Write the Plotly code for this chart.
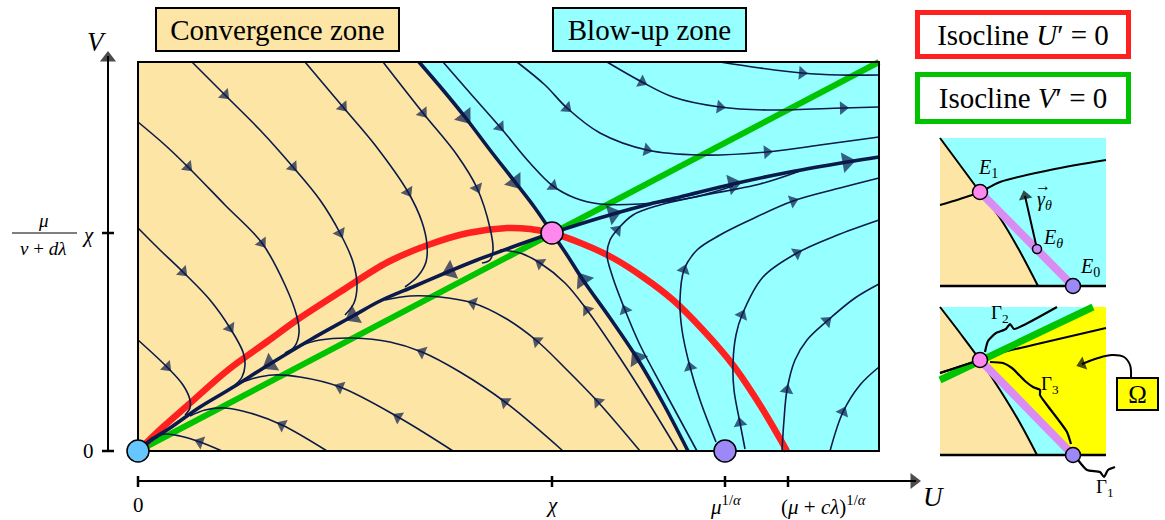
import plotly.graph_objects as go

# ---------------- main phase plane (U, V units) ----------------
U_MAX, V_MAX = 7.41, 3.89
E1 = (4.14, 2.18)
E0 = (5.87, 0.00)
ORIGIN = (0.00, 0.00)
U_TICKS = [0.00, 4.14, 5.87, 6.50]
U_TICK_TEXT = ["0", "<i>χ</i>", "<i>μ</i><sup>1/<i>α</i></sup>",
               "(<i>μ</i> + <i>cλ</i>)<sup>1/<i>α</i></sup>"]
V_TICKS = [0.00, 2.18]

# isoclines
red_iso = [(0.00, 0.00), (0.25, 0.24), (0.50, 0.46), (0.90, 0.81), (1.30, 1.10),
           (1.59, 1.31), (2.02, 1.59), (2.50, 1.89), (2.90, 2.06), (3.30, 2.18),
           (3.69, 2.23), (3.92, 2.22), (4.14, 2.18), (4.45, 2.07), (4.75, 1.93),
           (5.05, 1.74), (5.35, 1.51), (5.65, 1.21), (5.95, 0.86), (6.22, 0.46),
           (6.49, 0.00)]
green_iso = [(0.00, 0.00), (7.41, 3.89)]

# separatrices / manifolds of E1 (listed in flow direction)
sep_up = [(2.81, 3.89), (3.05, 3.61), (3.27, 3.34), (3.52, 3.01), (3.77, 2.69),
          (3.97, 2.43), (4.14, 2.18)]
sep_lo = [(5.50, 0.00), (5.25, 0.48), (4.99, 0.93), (4.72, 1.33), (4.45, 1.71),
          (4.29, 1.96), (4.14, 2.18)]
wu_left = [(4.14, 2.18), (3.77, 2.05), (3.39, 1.91), (3.12, 1.80), (2.77, 1.65),
           (2.42, 1.50), (2.15, 1.35), (1.72, 1.11), (1.32, 0.87), (0.92, 0.62),
           (0.62, 0.44), (0.32, 0.23), (0.12, 0.10), (0.00, 0.00)]
wu_right = [(4.14, 2.18), (4.42, 2.27), (4.75, 2.37), (5.12, 2.47), (5.42, 2.54),
            (5.95, 2.67), (6.52, 2.79), (7.09, 2.89), (7.41, 2.94)]

# thin trajectories
c1 = [(0.00, 1.11), (0.29, 0.84), (0.45, 0.66), (0.52, 0.51), (0.52, 0.43), (0.47, 0.36)]
c2 = [(0.00, 2.23), (0.22, 2.01), (0.45, 1.79), (0.72, 1.51), (0.92, 1.23), (1.05, 0.99),
      (1.07, 0.86), (1.04, 0.74), (0.97, 0.66)]
c3 = [(0.00, 3.29), (0.27, 3.06), (0.50, 2.84), (0.87, 2.46), (1.24, 2.08), (1.47, 1.66),
      (1.59, 1.34), (1.61, 1.18), (1.57, 1.05), (1.47, 0.96)]
c4 = [(0.54, 3.89), (0.87, 3.56), (1.22, 3.21), (1.55, 2.84), (1.82, 2.51), (2.02, 2.18),
      (2.15, 1.89), (2.19, 1.66), (2.16, 1.48), (2.07, 1.36)]
c5 = [(1.67, 3.89), (2.05, 3.44), (2.37, 3.06), (2.70, 2.59), (2.84, 2.29), (2.89, 2.06),
      (2.88, 1.89), (2.80, 1.75), (2.67, 1.64)]
c6 = [(2.45, 3.89), (2.85, 3.38), (3.19, 2.96), (3.39, 2.63), (3.52, 2.23), (3.55, 2.01),
      (3.52, 1.91), (3.44, 1.88)]
d1 = [(0.84, 0.00), (0.62, 0.09), (0.42, 0.15), (0.27, 0.17), (0.14, 0.13), (0.00, 0.00)]
d2 = [(1.89, 0.00), (1.44, 0.26), (1.12, 0.38), (0.87, 0.43), (0.67, 0.41), (0.52, 0.35)]
d3 = [(3.15, 0.00), (2.60, 0.34), (2.02, 0.64), (1.62, 0.74), (1.35, 0.76), (1.17, 0.73),
      (1.02, 0.68)]
d4 = [(4.25, 0.00), (3.67, 0.49), (3.22, 0.79), (2.84, 0.99), (2.52, 1.09), (2.15, 1.13),
      (1.82, 1.11), (1.59, 1.04), (1.47, 0.98)]
d5 = [(5.02, 0.00), (4.60, 0.49), (4.27, 0.83), (3.99, 1.10), (3.67, 1.33), (3.35, 1.48),
      (3.02, 1.54), (2.72, 1.55), (2.47, 1.51)]
d6 = [(5.40, 0.00), (5.12, 0.46), (4.82, 0.93), (4.49, 1.41), (4.27, 1.68), (4.02, 1.88),
      (3.82, 1.98), (3.62, 2.01)]
e1 = [(5.59, 0.00), (5.27, 0.59), (5.02, 1.06), (4.87, 1.41), (4.74, 1.76), (4.69, 1.96),
      (4.72, 2.11), (4.79, 2.21), (4.95, 2.36), (5.22, 2.46), (5.62, 2.55), (6.22, 2.67),
      (6.62, 2.80)]
f1 = [(5.78, 0.09), (5.62, 0.51), (5.52, 0.84), (5.44, 1.21), (5.42, 1.51), (5.46, 1.81),
      (5.59, 2.01), (5.82, 2.16), (6.12, 2.31), (6.55, 2.50), (7.02, 2.63), (7.41, 2.73)]
g1 = [(6.07, 0.02), (6.02, 0.28), (5.96, 0.61), (5.95, 0.88), (5.98, 1.16), (6.04, 1.36),
      (6.25, 1.74), (6.59, 1.98), (6.97, 2.15), (7.41, 2.31)]
g2 = [(6.44, 0.00), (6.46, 0.31), (6.49, 0.61), (6.57, 0.91), (6.69, 1.11), (6.89, 1.30),
      (7.17, 1.53), (7.41, 1.67)]
g3 = [(6.92, 0.00), (7.05, 0.39), (7.22, 0.66), (7.41, 0.84)]
h1 = [(3.05, 3.89), (3.32, 3.58), (3.62, 3.24), (3.92, 2.88), (4.15, 2.65), (4.37, 2.53),
      (4.62, 2.47), (5.02, 2.47), (5.52, 2.53), (5.95, 2.65)]
h2 = [(3.79, 3.89), (4.07, 3.66), (4.29, 3.43), (4.62, 3.18), (5.09, 3.01), (5.62, 2.96),
      (6.29, 2.99), (6.82, 3.06), (7.41, 3.14)]
h3 = [(4.69, 3.89), (5.04, 3.69), (5.35, 3.54), (5.82, 3.44), (6.29, 3.41), (7.05, 3.43),
      (7.41, 3.44)]
h4 = [(5.82, 3.89), (6.22, 3.83), (6.64, 3.78), (7.02, 3.76), (7.41, 3.76)]

# ---------------- inset 1 (local units) ----------------
IN_W, IN_H = 1.66, 1.48
in1_sep = [(0.00, 1.48), (0.20, 1.21), (0.40, 0.94), (0.60, 0.68), (0.78, 0.38), (0.98, 0.00)]
in1_wu = [(0.00, 0.81), (0.20, 0.87), (0.40, 0.94), (0.60, 1.04), (1.10, 1.16), (1.66, 1.26)]
in1_E1 = (0.40, 0.94)
in1_E0 = (1.33, 0.00)
in1_Et = (0.97, 0.37)
in1_gamma = (0.85, 0.90)

# ---------------- inset 2 (local units) ----------------
in2_sep = [(0.00, 1.48), (0.20, 1.22), (0.40, 0.95), (0.60, 0.65), (0.80, 0.32), (0.97, 0.00)]
in2_green = [(0.00, 0.75), (1.53, 1.48)]
in2_wu = [(0.00, 0.82), (0.40, 0.95), (0.60, 1.02), (0.93, 1.10), (1.66, 1.27)]
in2_E1 = (0.40, 0.95)
in2_E0 = (1.33, 0.00)
brace_g2 = [(0.45, 1.03), (0.48, 1.14), (0.56, 1.22), (0.66, 1.26), (0.70, 1.31), (0.74, 1.26),
            (0.84, 1.30), (1.17, 1.48)]
brace_g3 = [(0.50, 0.93), (0.63, 0.92), (0.72, 0.87), (0.85, 0.74), (0.93, 0.68), (1.00, 0.65),
            (1.00, 0.60), (1.07, 0.50), (1.20, 0.33), (1.27, 0.23), (1.31, 0.11)]
brace_g1 = [(1.38, -0.05), (1.47, -0.15), (1.60, -0.17), (1.64, -0.22), (1.68, -0.15),
            (1.75, -0.12)]
omega_call = [(1.91, 0.78), (1.90, 0.90), (1.84, 0.98), (1.72, 1.00), (1.58, 0.97), (1.42, 0.91)]

# ---------------- styling ----------------
BEIGE, CYAN, YELLOW = "#fde5a5", "#96ffff", "#ffff00"
NAVY, RED, GREEN = "#0a1a4a", "#ff2020", "#00c400"
VIOLET = "#d98cf2"
FONT = "Liberation Serif"
IN1_ORIGIN = (8.02, 1.65)
IN2_ORIGIN = (8.02, -0.04)

THIN = [(c1, [1]), (c2, [2, 4]), (c3, [2, 4]), (c4, [1, 3, 5]), (c5, [1, 3]), (c6, [1, 3]),
        (d1, [1]), (d2, [1]), (d3, [1, 2]), (d4, [1, 3]), (d5, [1, 3, 5]), (d6, [3, 5]),
        (e1, [3, 7]), (f1, [2, 5, 9]), (g1, [1, 5, 7]), (g2, [2, 5]), (g3, [1]),
        (h1, [2, 4]), (h2, [2, 4, 6]), (h3, [1, 3, 5]), (h4, [2])]
THICK = [(sep_up, [2, 4]), (sep_lo, [2, 4]), (wu_left, [3, 6, 8]), (wu_right, [2, 5, 7])]

fig = go.Figure()


def xy(pts, off=(0, 0)):
    return [p[0] + off[0] for p in pts], [p[1] + off[1] for p in pts]


def line(pts, width, color, off=(0, 0), shape="spline", smoothing=1.0):
    x, y = xy(pts, off)
    fig.add_trace(go.Scatter(x=x, y=y, mode="lines", hoverinfo="skip",
                             line=dict(color=color, width=width, shape=shape,
                                       smoothing=smoothing)))


def poly(pts, color, off=(0, 0)):
    x, y = xy(pts, off)
    fig.add_trace(go.Scatter(x=x, y=y, mode="lines", fill="toself", fillcolor=color,
                             line=dict(width=0), hoverinfo="skip"))


def arrows(items, size, color, off=(0, 0), symbol="triangle-up"):
    xs, ys, ss = [], [], []
    for pts, idxs in items:
        for i in idxs:
            a = pts[max(i - 1, 0)]
            b = pts[min(i + 1, len(pts) - 1)]
            p = pts[i]
            xs += [p[0] - 0.02 * (b[0] - a[0]) + off[0], p[0] + off[0]]
            ys += [p[1] - 0.02 * (b[1] - a[1]) + off[1], p[1] + off[1]]
            ss += [0, size]
    fig.add_trace(go.Scatter(x=xs, y=ys, mode="markers", hoverinfo="skip",
                             marker=dict(symbol=symbol, size=ss, color=color,
                                         angleref="previous", line=dict(width=0))))


def dots(pts, colors, size, off=(0, 0)):
    x, y = xy(pts, off)
    fig.add_trace(go.Scatter(x=x, y=y, mode="markers", hoverinfo="skip",
                             marker=dict(size=size, color=colors,
                                         line=dict(color="black", width=1.5))))


def label(text, x, y, size=20, **kw):
    fig.add_annotation(x=x, y=y, xref="x", yref="y", text=text, showarrow=False,
                       font=dict(family=FONT, size=size, color="black"), **kw)


# ---- main plane fills ----
box = [(0, 0), (U_MAX, 0), (U_MAX, V_MAX), (0, V_MAX)]
poly(box, CYAN)
poly([(0, 0), (0, V_MAX)] + sep_up + sep_lo[::-1], BEIGE)

line(green_iso, 6, GREEN, shape="linear")
line(red_iso, 6.5, RED)

for pts, _ in THIN:
    line(pts, 1.6, NAVY)
for pts, _ in THICK:
    line(pts, 3.6, NAVY)
arrows(THIN, 12, NAVY)
arrows(THICK, 18, NAVY)

line(box + [box[0]], 2, "black", shape="linear")
dots([ORIGIN, E0, E1], ["#66c6ff", "#9d88f7", "#ff88ee"], 22)

# ---- axes ----
line([(-0.30, 0.00), (-0.30, 3.95)], 2, "black", shape="linear")
line([(0.00, -0.30), (7.78, -0.30)], 2, "black", shape="linear")
arrows([([(-0.30, 3.80), (-0.30, 3.93)], [1]), ([(7.60, -0.30), (7.76, -0.30)], [1])],
       14, "black")
for v in V_TICKS:
    line([(-0.36, v), (-0.24, v)], 2.5, "black", shape="linear")
for u in U_TICKS:
    line([(u, -0.25), (u, -0.36)], 2.5, "black", shape="linear")
for u, t in zip(U_TICKS, U_TICK_TEXT):
    label(t, u, -0.54, size=21, xshift=35 if u == U_TICKS[-1] else 0)
label("0", -0.50, 0.0, size=21)
label("<i>V</i>", -0.41, 4.09, size=27)
label("<i>U</i>", 7.95, -0.46, size=27)
label("<i>μ</i>", -0.95, 2.31, size=19)
line([(-1.26, 2.18), (-0.61, 2.18)], 1.2, "black", shape="linear")
label("<i>ν</i> + <i>dλ</i>", -0.95, 2.03, size=19)
label("<i>χ</i>", -0.50, 2.16, size=21)

# ---- boxed legends ----
label("Convergence zone", 1.395, 4.215, size=29, bgcolor=BEIGE, bordercolor="black",
      borderwidth=2, borderpad=0, width=241, height=41)
label("Blow-up zone", 5.115, 4.215, size=29, bgcolor=CYAN, bordercolor="black",
      borderwidth=2, borderpad=0, width=191, height=41)
label("Isocline <i>U</i>′ = 0", 8.85, 4.165, size=29, bgcolor="white", bordercolor=RED,
      borderwidth=5, borderpad=0, width=206, height=39)
label("Isocline <i>V</i>′ = 0", 8.85, 3.53, size=29, bgcolor="white", bordercolor=GREEN,
      borderwidth=5, borderpad=0, width=206, height=42)

# ---- inset 1 ----
o1 = IN1_ORIGIN
in_box = [(0, 0), (IN_W, 0), (IN_W, IN_H), (0, IN_H)]
poly(in_box, CYAN, o1)
poly([(0, 0)] + in1_sep, BEIGE, o1)
line(in1_sep, 2, "black", o1)
line(in1_wu, 2, "black", o1)
line([in1_E1, in1_E0], 8, VIOLET, o1, shape="linear")
line([(0, 0), (IN_W, 0)], 2.5, "black", o1, shape="linear")
line([in1_Et, in1_gamma], 2, "black", o1, shape="linear")
arrows([([in1_Et, in1_gamma], [1])], 12, "black", o1)
dots([in1_E1, in1_E0], ["#ff88ee", "#9d88f7"], 15, o1)
dots([in1_Et], ["#c68cf5"], 9, o1)
label("<i>E</i><sub>1</sub>", o1[0] + 0.48, o1[1] + 1.18, size=20)
label("<i>γ</i><sub><i>θ</i></sub>", o1[0] + 1.04, o1[1] + 0.86, size=20)
label("→", o1[0] + 1.03, o1[1] + 1.01, size=16)
label("<i>E</i><sub><i>θ</i></sub>", o1[0] + 1.13, o1[1] + 0.48, size=20)
label("<i>E</i><sub>0</sub>", o1[0] + 1.50, o1[1] + 0.19, size=20)

# ---- inset 2 ----
o2 = IN2_ORIGIN
poly(in_box, CYAN, o2)
poly([(0, 0)] + in2_sep, BEIGE, o2)
poly([in2_E1, in2_green[1], (IN_W, IN_H), (IN_W, 0), in2_E0], YELLOW, o2)
line(in2_sep, 2, "black", o2)
line(in2_wu, 2, "black", o2)
line(in2_green, 7, GREEN, o2, shape="linear")
line(in2_wu[:2], 2, "black", o2, shape="linear")
line([in2_E1, in2_E0], 8, VIOLET, o2, shape="linear")
line([(0, 0), (IN_W, 0)], 2.5, "black", o2, shape="linear")
for br in (brace_g2, brace_g3, brace_g1):
    line(br, 2.2, "black", o2, smoothing=0.6)
line(omega_call, 2, "black", o2)
arrows([(omega_call, [5])], 12, "black", o2)
dots([in2_E1, in2_E0], ["#ff88ee", "#9d88f7"], 15, o2)
label("Γ<sub>2</sub>", o2[0] + 0.60, o2[1] + 1.41, size=19)
label("Γ<sub>3</sub>", o2[0] + 1.10, o2[1] + 0.70, size=19)
label("Γ<sub>1</sub>", o2[0] + 1.65, o2[1] - 0.33, size=19)
label("Ω", o2[0] + 1.975, o2[1] + 0.61, size=25, bgcolor=YELLOW, bordercolor="black",
      borderwidth=2, borderpad=0, width=39, height=30)

fig.update_layout(
    width=1165, height=520, autosize=False,
    margin=dict(l=0, r=0, t=0, b=0),
    paper_bgcolor="white", plot_bgcolor="white",
    showlegend=False,
    font=dict(family=FONT),
    xaxis=dict(range=[-1.38, 10.27], visible=False),
    yaxis=dict(range=[-0.69, 4.51], visible=False),
)

# the default page has an 8px body margin; drop it so the figure sits at the corner
fig.write_html("out.html", config={"displayModeBar": False},
               post_script="document.body.style.margin='0';document.body.style.overflow='hidden';")
